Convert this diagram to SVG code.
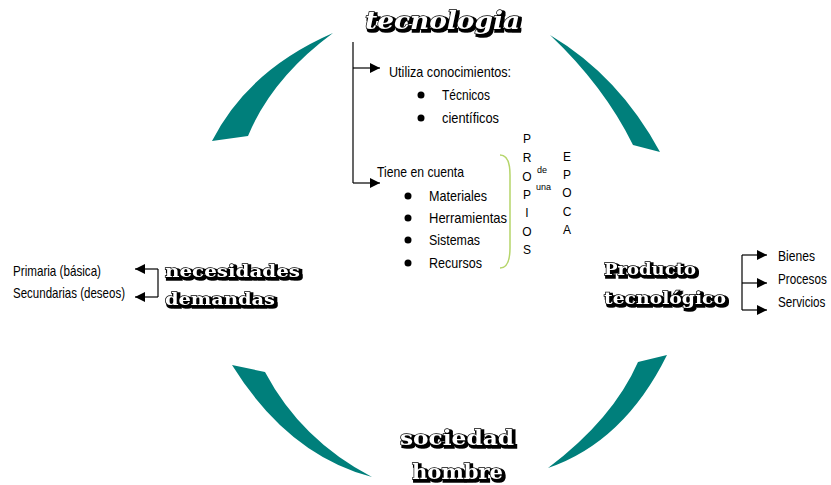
<svg xmlns="http://www.w3.org/2000/svg" width="831" height="485" viewBox="0 0 831 485">
<defs>
<marker id="ah" viewBox="0 0 10 10" refX="10" refY="5" markerWidth="10" markerHeight="10" markerUnits="userSpaceOnUse" orient="auto">
<path d="M0,0 L10,5 L0,10 Z" fill="#000"/>
</marker>
<filter id="deco" x="-10%" y="-40%" width="125%" height="190%">
<feMorphology in="SourceAlpha" operator="dilate" radius="0.8" result="d"/>
<feOffset in="d" dx="2" dy="2" result="sh"/>
<feMerge><feMergeNode in="sh"/><feMergeNode in="SourceGraphic"/></feMerge>
</filter>
</defs>
<style>
.t{font-family:"Liberation Sans",Arial,sans-serif;font-size:15px;fill:#000}
.s{font-family:"Liberation Sans",Arial,sans-serif;font-size:9px;fill:#000}
.v{font-family:"Liberation Sans",Arial,sans-serif;font-size:12px;fill:#000;text-anchor:middle}
.d{font-family:"DejaVu Serif",serif;font-weight:bold;fill:#fff;stroke:#000;stroke-width:1.3;paint-order:stroke;filter:url(#deco)}
.i{font-style:italic}
.arc{fill:#007f7b}
.c{fill:none;stroke:#000;stroke-width:1.2}
.a{fill:none;stroke:#000;stroke-width:1.2;marker-end:url(#ah)}
</style>
<rect width="831" height="485" fill="#fff"/>
<g id="arcs">
<path class="arc" d="M212,141 Q248,70 333,33 Q272,78 248,136 Z"/>
<path class="arc" d="M550,35 Q619,76 660,152 L633,145 Q604,86 550,35 Z"/>
<path class="arc" d="M232,365 Q288,455 372,477 Q301,440 265,372 Z"/>
<path class="arc" d="M667,355 Q624,442 548,468 Q613,419 638,362 Z"/>
</g>
<g id="connectors">
<path class="c" d="M353,42 V183"/>
<path class="a" d="M353,68 H380"/>
<path class="a" d="M353,183 H380"/>
<path class="c" d="M158,269 V297"/>
<path class="a" d="M158,269 H135"/>
<path class="a" d="M158,297 H135"/>
<path class="c" d="M742,255 V310"/>
<path class="a" d="M742,255 H767"/>
<path class="a" d="M742,283 H767"/>
<path class="a" d="M742,310 H767"/>
<path d="M500,155 Q510,155 510,175 V248 Q510,268 500,268" fill="none" stroke="#b5d56a" stroke-width="1.5"/>
</g>
<g id="tecnologia">
<text class="d i" x="365" y="29" font-size="24" textLength="155" lengthAdjust="spacingAndGlyphs">tecnologia</text>
<text class="t" x="389" y="77" textLength="122" lengthAdjust="spacingAndGlyphs">Utiliza conocimientos:</text>
<circle cx="421" cy="95" r="3.5"/>
<text class="t" x="442" y="100" textLength="48" lengthAdjust="spacingAndGlyphs">Técnicos</text>
<circle cx="421" cy="118" r="3.5"/>
<text class="t" x="442" y="123" textLength="57" lengthAdjust="spacingAndGlyphs">científicos</text>
<text class="t" x="377" y="177" textLength="87" lengthAdjust="spacingAndGlyphs">Tiene en cuenta</text>
<circle cx="408" cy="196" r="3.5"/>
<text class="t" x="429" y="201" textLength="58" lengthAdjust="spacingAndGlyphs">Materiales</text>
<circle cx="408" cy="218" r="3.5"/>
<text class="t" x="429" y="223" textLength="78" lengthAdjust="spacingAndGlyphs">Herramientas</text>
<circle cx="408" cy="240" r="3.5"/>
<text class="t" x="429" y="245" textLength="51" lengthAdjust="spacingAndGlyphs">Sistemas</text>
<circle cx="408" cy="263" r="3.5"/>
<text class="t" x="429" y="268" textLength="53" lengthAdjust="spacingAndGlyphs">Recursos</text>
</g>
<g id="epoca">
<text class="v" x="527" y="143">P</text>
<text class="v" x="527" y="162">R</text>
<text class="v" x="527" y="181">O</text>
<text class="v" x="527" y="199">P</text>
<text class="v" x="527" y="217">I</text>
<text class="v" x="527" y="236">O</text>
<text class="v" x="527" y="254">S</text>
<text class="s" x="537" y="173">de</text>
<text class="s" x="536" y="190">una</text>
<text class="v" x="567" y="161">E</text>
<text class="v" x="567" y="179">P</text>
<text class="v" x="567" y="197">O</text>
<text class="v" x="567" y="216">C</text>
<text class="v" x="567" y="234">A</text>
</g>
<g id="necesidades">
<text class="d" x="165" y="277" font-size="17" textLength="135" lengthAdjust="spacingAndGlyphs">necesidades</text>
<text class="d" x="165" y="305" font-size="17" textLength="110" lengthAdjust="spacingAndGlyphs">demandas</text>
<text class="t" x="13" y="276" textLength="88" lengthAdjust="spacingAndGlyphs">Primaria (básica)</text>
<text class="t" x="13" y="298" textLength="112" lengthAdjust="spacingAndGlyphs">Secundarias (deseos)</text>
</g>
<g id="producto">
<text class="d" x="604" y="275" font-size="16" textLength="92" lengthAdjust="spacingAndGlyphs">Producto</text>
<text class="d" x="604" y="304" font-size="16" textLength="122" lengthAdjust="spacingAndGlyphs">tecnológico</text>
<text class="t" x="778" y="261" textLength="37" lengthAdjust="spacingAndGlyphs">Bienes</text>
<text class="t" transform="matrix(0.78,0,0,1,778,284)">Procesos</text>
<text class="t" transform="matrix(0.78,0,0,1,778,307)">Servicios</text>
</g>
<g id="sociedad">
<text class="d" x="400" y="445" font-size="20" textLength="114" lengthAdjust="spacingAndGlyphs">sociedad</text>
<text class="d" x="412" y="479" font-size="20" textLength="91" lengthAdjust="spacingAndGlyphs">hombre</text>
</g>
</svg>
